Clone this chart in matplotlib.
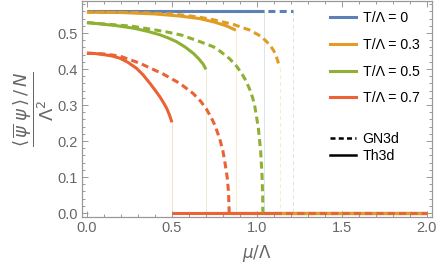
import matplotlib
matplotlib.use("Agg")
import matplotlib.pyplot as plt
from matplotlib.lines import Line2D

plt.rcParams['font.family'] = ['Liberation Sans', 'DejaVu Sans']
plt.rcParams['mathtext.fontset'] = 'dejavusans'

# colours (Mathematica 97 default palette)
c_blue = '#5e81b5'
c_orange = '#e19c24'
c_green = '#8fb032'
c_red = '#eb6235'

temps = ['0', '0.3', '0.5', '0.7']
colors = [c_blue, c_orange, c_green, c_red]

# Th3d (solid) curves, mu/Lambda and <psibar psi>/N / Lambda^2
th_mu_0 = [0.0, 1.04]
th_v_0 = [0.562, 0.562]
th_mu_03 = [0.0, 0.2, 0.4, 0.55, 0.665, 0.753, 0.82, 0.876]
th_v_03 = [0.558, 0.557, 0.553, 0.547, 0.540, 0.530, 0.520, 0.508]
th_mu_05 = [0.0, 0.167, 0.28, 0.363, 0.43, 0.48, 0.527, 0.578, 0.625, 0.657, 0.685, 0.7]
th_v_05 = [0.529, 0.521, 0.513, 0.504, 0.495, 0.486, 0.476, 0.461, 0.444, 0.429, 0.413, 0.399]
th_mu_07 = [0.0, 0.05, 0.1, 0.15, 0.194, 0.24, 0.292, 0.33, 0.371, 0.4, 0.429,
            0.45, 0.469, 0.485, 0.5]
th_v_07 = [0.444, 0.443, 0.440, 0.436, 0.430, 0.419, 0.402, 0.384, 0.360, 0.342, 0.323,
           0.307, 0.291, 0.273, 0.252]

# GN3d (dashed) curves
gn_mu_0 = [0.0, 1.21]
gn_v_0 = [0.562, 0.562]
gn_mu_03 = [0.0, 0.3, 0.5, 0.65, 0.743, 0.861, 0.959, 1.027, 1.076, 1.1, 1.116, 1.135]
gn_v_03 = [0.558, 0.557, 0.553, 0.545, 0.537, 0.524, 0.508, 0.490, 0.467, 0.450, 0.432, 0.404]
gn_mu_05 = [0.0, 0.265, 0.461, 0.559, 0.665, 0.743, 0.782, 0.841, 0.88, 0.91,
            0.935, 0.959, 0.975, 0.988, 1.008, 1.022, 1.03, 1.034, 1.035]
gn_v_05 = [0.529, 0.519, 0.504, 0.494, 0.476, 0.462, 0.450, 0.428, 0.408, 0.388,
           0.368, 0.342, 0.320, 0.295, 0.238, 0.172, 0.105, 0.045, 0.0]
gn_mu_07 = [0.0, 0.1, 0.194, 0.312, 0.449, 0.547, 0.625, 0.67, 0.704, 0.73, 0.753,
            0.782, 0.8, 0.812, 0.825, 0.833, 0.837]
gn_v_07 = [0.444, 0.442, 0.436, 0.416, 0.386, 0.360, 0.332, 0.310, 0.288, 0.266, 0.244,
           0.205, 0.172, 0.140, 0.100, 0.058, 0.0]

th_mu = [th_mu_0, th_mu_03, th_mu_05, th_mu_07]
th_v = [th_v_0, th_v_03, th_v_05, th_v_07]
gn_mu = [gn_mu_0, gn_mu_03, gn_mu_05, gn_mu_07]
gn_v = [gn_v_0, gn_v_03, gn_v_05, gn_v_07]

mu_max = 2.0

fig = plt.figure(figsize=(4.36, 2.67), dpi=100)
ax = fig.add_axes([82 / 436, 1 - 217 / 267, 350 / 436, 216 / 267])

lw = 2.2
dash = (2.3, 1.4)
gray = '#666666'

# solid Th3d
for mu, v, c in zip(th_mu, th_v, colors):
    ax.plot(mu, v, color=c, lw=lw, solid_capstyle='butt', solid_joinstyle='round', zorder=3)
    # faint jump line
    ax.plot([mu[-1], mu[-1]], [v[-1], 0], color=c, lw=0.7, alpha=0.22, zorder=2)
for mu, c in zip(th_mu, colors):
    ax.plot([mu[-1], mu_max], [0, 0], color=c, lw=lw, solid_capstyle='butt', zorder=3)

# dashed GN3d
for mu, v, c in zip(gn_mu, gn_v, colors):
    ax.plot(mu, v, color=c, lw=lw, dashes=dash, dash_capstyle='butt', zorder=4)
    if v[-1] > 0:
        ax.plot([mu[-1], mu[-1]], [v[-1], 0], color=c, lw=0.7, alpha=0.22,
                dashes=(4, 3), zorder=2)
for mu, c in zip(gn_mu, colors):
    ax.plot([mu[-1], mu_max], [0, 0], color=c, lw=lw, dashes=dash,
            dash_capstyle='butt', zorder=4)

ax.set_xlim(-0.029, 2.03)
ax.set_ylim(-0.011, 0.589)
ax.set_xticks([0.0, 0.5, 1.0, 1.5, 2.0])
ax.set_xticks([i / 10 for i in range(21)], minor=True)
ax.set_yticks([0.0, 0.1, 0.2, 0.3, 0.4, 0.5])
ax.set_yticks([i / 50 for i in range(30)], minor=True)
ax.set_xticklabels(['0.0', '0.5', '1.0', '1.5', '2.0'])
ax.set_yticklabels(['0.0', '0.1', '0.2', '0.3', '0.4', '0.5'])
ax.tick_params(which='both', direction='in', top=True, right=True,
               color='#999999', labelcolor=gray, labelsize=10.5, width=0.7)
ax.tick_params(which='major', length=4.5, pad=3)
ax.tick_params(which='minor', length=2.5)
for s in ax.spines.values():
    s.set_color('#999999')
    s.set_linewidth(0.9)

ax.set_xlabel(r'$\mu/\Lambda$', color=gray, fontsize=12, labelpad=6)
ax.set_ylabel(r'$\dfrac{\langle\,\overline{\psi}\;\psi\,\rangle\,/\,N}{\Lambda^2}$',
              color=gray, fontsize=13, labelpad=1)

h1 = [Line2D([], [], color=c, lw=lw) for c in colors]
leg1 = ax.legend(h1, ['T/\u039b = ' + t for t in temps], loc='upper left',
                 bbox_to_anchor=(330 / 436, 1 - 11 / 267), bbox_transform=fig.transFigure,
                 frameon=False, fontsize=10.2, handlelength=1.8, handletextpad=0.5,
                 labelspacing=0.9, borderpad=0, borderaxespad=0)
ax.add_artist(leg1)
h2 = [Line2D([], [], color='black', lw=1.8, dashes=(2, 1.3)),
      Line2D([], [], color='black', lw=1.8)]
ax.legend(h2, ['GN3d', 'Th3d'], loc='upper left',
          bbox_to_anchor=(330 / 436, 1 - 132 / 267), bbox_transform=fig.transFigure,
          frameon=False, fontsize=10.2, handlelength=1.8, handletextpad=0.5,
          labelspacing=0.2, borderpad=0, borderaxespad=0)

fig.savefig('out.png', dpi=100)
